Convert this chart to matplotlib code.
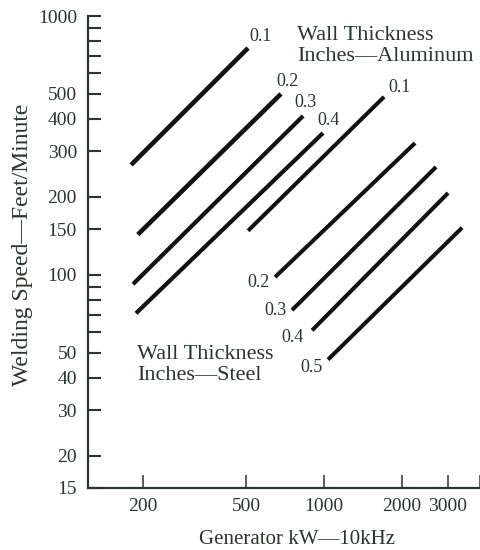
import matplotlib
matplotlib.use('Agg')
import matplotlib.pyplot as plt
from matplotlib.ticker import FixedLocator, NullFormatter

# wall thickness (inches) and line end points (generator kW, speed ft/min)
steel_t = ['0.1', '0.2', '0.3', '0.4']
steel_kw = [(180, 509), (191, 682), (183, 830), (188, 991)]
steel_speed = [(266, 752), (143, 500), (92, 411), (71, 353)]

alum_t = ['0.1', '0.2', '0.3', '0.4', '0.5']
alum_kw = [(509, 1705), (647, 2246), (752, 2706), (899, 3012), (1036, 3410)]
alum_speed = [(148, 487), (98, 323), (73, 261), (61, 207), (47, 152)]

y_ticks = [15, 20, 30, 40, 50, 100, 150, 200, 300, 400, 500, 1000]
y_minor = [60, 70, 80, 90, 600, 700, 800, 900]
x_ticks = [200, 500, 1000, 2000, 3000]
x_minor = [4000]

ink = '#28362b'
plt.rcParams['font.family'] = ['Liberation Serif', 'DejaVu Serif']

fig = plt.figure(figsize=(4.81, 5.5), dpi=100)
ax = fig.add_axes([88/481, 1-488/550, 392/481, 472/550])
ax.set_xscale('log')
ax.set_yscale('log')
ax.set_xlim(122.7, 4000)
ax.set_ylim(15, 1000)

# steel lines (first two drawn a bit heavier, as in the original)
for i, (kw, sp) in enumerate(zip(steel_kw, steel_speed)):
    lw = 3.3 if i < 2 else 3.0
    ax.plot(kw, sp, color='#111111', linewidth=lw, solid_capstyle='butt')
for kw, sp in zip(alum_kw, alum_speed):
    ax.plot(kw, sp, color='#111111', linewidth=2.9, solid_capstyle='butt')

# thickness labels at line ends
steel_off = [(1, 8), (-3, 9), (-6, 10), (-4, 9)]
for t, kw, sp, off in zip(steel_t, steel_kw, steel_speed, steel_off):
    ax.annotate(t, (kw[1], sp[1]), xytext=off, textcoords='offset points',
                ha='left', va='center', fontsize=13, color=ink)
ax.annotate(alum_t[0], (alum_kw[0][1], alum_speed[0][1]), xytext=(3, 7),
            textcoords='offset points', ha='left', va='center', fontsize=13, color=ink)
alum_off = [(-4, -4), (-4, 0), (-6, -5), (-4, -6)]
for t, kw, sp, off in zip(alum_t[1:], alum_kw[1:], alum_speed[1:], alum_off):
    ax.annotate(t, (kw[0], sp[0]), xytext=off, textcoords='offset points',
                ha='right', va='center', fontsize=13, color=ink)

ax.text(0.533, 0.978, 'Wall Thickness\nInches\u2014Aluminum', transform=ax.transAxes,
        ha='left', va='top', fontsize=16, color=ink, linespacing=1.1)
ax.text(0.125, 0.302, 'Wall Thickness\nInches\u2014Steel', transform=ax.transAxes,
        ha='left', va='top', fontsize=16, color=ink, linespacing=1.1)

ax.yaxis.set_major_locator(FixedLocator(y_ticks))
ax.yaxis.set_minor_locator(FixedLocator(y_minor))
ax.set_yticklabels([str(v) for v in y_ticks])
ax.yaxis.set_minor_formatter(NullFormatter())
ax.xaxis.set_major_locator(FixedLocator(x_ticks))
ax.xaxis.set_minor_locator(FixedLocator(x_minor))
ax.set_xticklabels([str(v) for v in x_ticks])
ax.xaxis.set_minor_formatter(NullFormatter())

ax.tick_params(axis='y', which='both', direction='in', length=9.5, width=1.5,
               color=ink, labelsize=14, labelcolor=ink, pad=8)
ax.tick_params(axis='x', which='both', direction='in', length=9.5, width=1.1,
               color=ink, labelsize=14, labelcolor=ink, pad=7)

for s in ['top', 'right']:
    ax.spines[s].set_visible(False)
for s in ['left', 'bottom']:
    ax.spines[s].set_color(ink)
    ax.spines[s].set_linewidth(1.6)

fig.text(23/481, 1-245/550, 'Welding Speed\u2014Feet/Minute', rotation=90,
         ha='center', va='center', fontsize=17, color=ink)
fig.text(297/481, 1-539/550, 'Generator kW\u201410kHz', ha='center', va='center',
         fontsize=15, color=ink)

plt.savefig('out.png', dpi=100)
plt.close()
